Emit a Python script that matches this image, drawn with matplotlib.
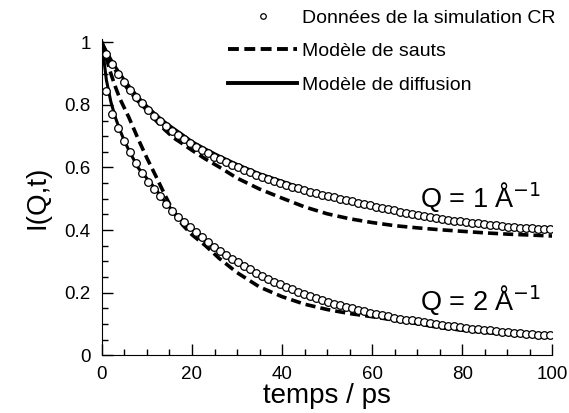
import matplotlib
matplotlib.use("Agg")
import matplotlib.pyplot as plt
import numpy as np

plt.rcParams['font.family'] = ['Liberation Sans', 'DejaVu Sans']

# simulation time grid (ps) for the CR data points
t_sim = np.arange(75) * 1.33 + 1.0

sim_q1 = [0.962, 0.930, 0.900, 0.874, 0.849, 0.826, 0.805, 0.785, 0.766, 0.749,
          0.733, 0.718, 0.704, 0.691, 0.679, 0.667, 0.656, 0.645, 0.635, 0.626,
          0.617, 0.608, 0.600, 0.592, 0.584, 0.577, 0.570, 0.563, 0.557, 0.551,
          0.545, 0.539, 0.534, 0.528, 0.523, 0.518, 0.513, 0.509, 0.505, 0.500,
          0.496, 0.492, 0.488, 0.484, 0.479, 0.475, 0.471, 0.467, 0.463, 0.459,
          0.455, 0.452, 0.448, 0.445, 0.442, 0.439, 0.436, 0.433, 0.430, 0.428,
          0.425, 0.423, 0.421, 0.419, 0.417, 0.415, 0.413, 0.411, 0.410, 0.408,
          0.407, 0.405, 0.404, 0.403, 0.402]

sim_q2 = [0.843, 0.770, 0.727, 0.686, 0.648, 0.613, 0.583, 0.555, 0.532, 0.508,
          0.484, 0.462, 0.443, 0.426, 0.410, 0.393, 0.377, 0.361, 0.347, 0.334,
          0.321, 0.309, 0.297, 0.285, 0.274, 0.263, 0.253, 0.244, 0.235, 0.226,
          0.218, 0.210, 0.203, 0.196, 0.189, 0.183, 0.177, 0.171, 0.165, 0.160,
          0.155, 0.150, 0.145, 0.140, 0.136, 0.132, 0.128, 0.124, 0.120, 0.117,
          0.114, 0.111, 0.108, 0.105, 0.102, 0.099, 0.097, 0.094, 0.092, 0.089,
          0.087, 0.085, 0.083, 0.081, 0.079, 0.077, 0.075, 0.074, 0.072, 0.070,
          0.069, 0.067, 0.066, 0.064, 0.063]

# model curves
t_mod = [0, 1, 2, 3, 4, 5, 6, 8, 10, 12, 14, 16, 18, 20, 23, 26, 30, 35, 40,
         45, 50, 55, 60, 65, 70, 75, 80, 85, 90, 95, 100]

sauts_q1 = [1.0, 0.965, 0.938, 0.912, 0.888, 0.866, 0.846, 0.812, 0.783, 0.750,
            0.720, 0.694, 0.675, 0.655, 0.627, 0.602, 0.566, 0.531, 0.502,
            0.474, 0.452, 0.436, 0.424, 0.414, 0.407, 0.401, 0.396, 0.391,
            0.387, 0.384, 0.381]

diff_q1 = [1.0, 0.972, 0.946, 0.922, 0.900, 0.880, 0.861, 0.826, 0.796, 0.769,
           0.745, 0.724, 0.704, 0.683, 0.659, 0.637, 0.610, 0.580, 0.556,
           0.531, 0.510, 0.492, 0.477, 0.463, 0.450, 0.438, 0.427, 0.418,
           0.411, 0.406, 0.402]

sauts_q2 = [1.0, 0.950, 0.900, 0.858, 0.820, 0.790, 0.760, 0.693, 0.630, 0.572,
            0.512, 0.455, 0.415, 0.385, 0.350, 0.310, 0.264, 0.218, 0.187,
            0.163, 0.146, 0.133, 0.123, 0.112, 0.101, 0.088, 0.080, 0.073,
            0.067, 0.062, 0.058]

diff_q2 = [1.0, 0.880, 0.810, 0.760, 0.720, 0.685, 0.655, 0.600, 0.565, 0.530,
           0.490, 0.458, 0.430, 0.403, 0.365, 0.333, 0.296, 0.255, 0.218,
           0.190, 0.166, 0.148, 0.133, 0.120, 0.108, 0.098, 0.089, 0.081,
           0.074, 0.068, 0.063]

fig = plt.figure(figsize=(5.69, 4.13), dpi=100)
ax = fig.add_axes([0.179, 0.140, 0.792, 0.765])

dash = (2.8, 1.4)
ax.plot(t_mod, sauts_q1, color='black', lw=2.6, ls=(0, dash))
ax.plot(t_mod, sauts_q2, color='black', lw=2.6, ls=(0, dash))
ax.plot(t_mod, diff_q1, color='black', lw=2.2)
ax.plot(t_mod, diff_q2, color='black', lw=2.2)
ax.plot(t_sim, sim_q1, 'o', color='black', mfc='white', ms=5.5, mew=0.9)
ax.plot(t_sim, sim_q2, 'o', color='black', mfc='white', ms=5.5, mew=0.9)

ax.set_xlim(0, 100)
ax.set_ylim(0, 1.01)
ax.set_xticks([0, 20, 40, 60, 80, 100])
ax.set_xticks(np.arange(0, 101, 5), minor=True)
ax.set_yticks([0, 0.2, 0.4, 0.6, 0.8, 1])
ax.set_yticklabels(['0', '0.2', '0.4', '0.6', '0.8', '1'])
ax.set_yticks(np.arange(0, 1.01, 0.05), minor=True)
ax.tick_params(direction='in', labelsize=13.5, width=1, length=8, pad=8)
ax.tick_params(which='minor', direction='in', width=1, length=4.5)
ax.spines['top'].set_visible(False)
ax.spines['right'].set_visible(False)

ax.set_xlabel('temps / ps', fontsize=20, labelpad=0)
ax.set_ylabel('I(Q,t)', fontsize=20, labelpad=10)

ax.text(70.7, 0.473, 'Q = 1 Å$^{-1}$', fontsize=19.5, ha='left', va='baseline')
ax.text(70.7, 0.143, 'Q = 2 Å$^{-1}$', fontsize=19.5, ha='left', va='baseline')

h1, = plt.plot([], [], 'o', color='black', mfc='white', ms=4, mew=0.9)
h2, = plt.plot([], [], color='black', lw=2.8, ls=(0, dash))
h3, = plt.plot([], [], color='black', lw=2.8)
fig.legend([h1, h2, h3],
           ['Données de la simulation CR', 'Modèle de sauts', 'Modèle de diffusion'],
           loc='upper left', bbox_to_anchor=(0.4007, 0.978), frameon=False,
           fontsize=14, handlelength=3.55, handletextpad=0.26, labelspacing=0.82,
           borderpad=0, borderaxespad=0, numpoints=1)

fig.savefig('out.png', dpi=100)
